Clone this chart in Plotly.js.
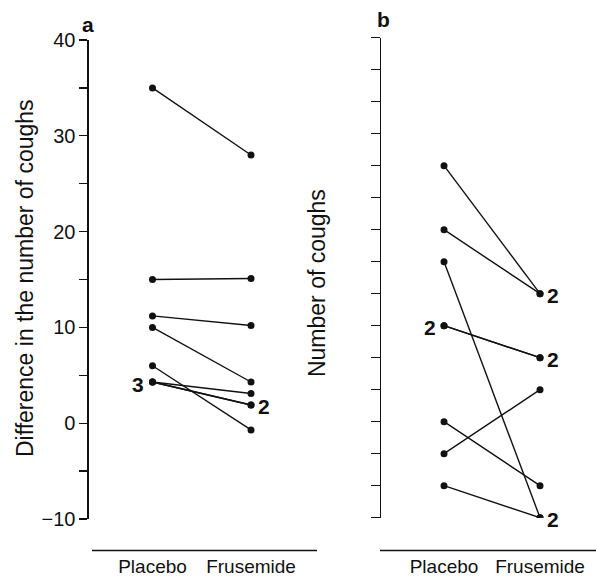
<!DOCTYPE html>
<html>
<head>
<meta charset="utf-8">
<script src="https://cdn.plot.ly/plotly-3.0.1.min.js"></script>
<style>html,body{margin:0;padding:0;background:#fff;}#chart{width:596px;height:576px;}</style>
</head>
<body>
<div id="chart"></div>
<script>
// ---- data ----
const categories = ['Placebo', 'Frusemide'];
// panel a: difference in number of coughs, one pair per patient
const placeboA   = [35, 15.0, 11.2, 10.0, 6.0, 4.3, 4.3, 4.3];
const frusemideA = [28, 15.1, 10.2, 4.3, -0.7, 3.1, 1.9, 1.9];
// panel b: number of coughs (axis ticks unlabelled)
const placeboB   = [11, 9, 8, 6, 6, 3, 2, 1];
const frusemideB = [7, 7, 0, 5, 5, 1, 4, 0];
// count labels (overlapping patients)
const countA_cat  = ['Placebo', 'Frusemide'];
const countA_y    = [4.3, 1.9];
const countA_text = ['3', '2'];
const countB_cat  = ['Placebo', 'Frusemide', 'Frusemide', 'Frusemide'];
const countB_y    = [6, 7, 5, 0];
const countB_text = ['2', '2', '2', '2'];
const yTicksA = [-10, -5, 0, 5, 10, 15, 20, 25, 30, 35, 40];
const yTickTextA = ['\u221210', '', '0', '', '10', '', '20', '', '30', '', '40'];
const yTicksB = [0,1,2,3,4,5,6,7,8,9,10,11,12,13,14,15];

const FONT = '"Liberation Sans", Arial, Helvetica, sans-serif';
const INK = '#111';

const traces = [];
placeboA.forEach((p, i) => {
  traces.push({x: categories, y: [p, frusemideA[i]], xaxis: 'x', yaxis: 'y',
    mode: 'lines+markers', line: {color: INK, width: 1.4},
    marker: {color: INK, size: 7}, hoverinfo: 'x+y', showlegend: false});
});
placeboB.forEach((p, i) => {
  traces.push({x: categories, y: [p, frusemideB[i]], xaxis: 'x2', yaxis: 'y2',
    mode: 'lines+markers', line: {color: INK, width: 1.4},
    marker: {color: INK, size: 7}, hoverinfo: 'x+y', showlegend: false});
});

const annotations = [];
countA_text.forEach((t, i) => {
  const left = countA_cat[i] === categories[0];
  annotations.push({xref: 'x', yref: 'y', x: countA_cat[i], y: countA_y[i], text: t,
    showarrow: false, xanchor: left ? 'right' : 'left', yanchor: 'middle',
    xshift: left ? -6 : 5, yshift: -2,
    font: {family: FONT, size: 21, color: INK, weight: 'bold'}});
});
countB_text.forEach((t, i) => {
  const left = countB_cat[i] === categories[0];
  annotations.push({xref: 'x2', yref: 'y2', x: countB_cat[i], y: countB_y[i], text: t,
    showarrow: false, xanchor: left ? 'right' : 'left', yanchor: 'middle',
    xshift: left ? -6 : 5, yshift: -2,
    font: {family: FONT, size: 21, color: INK, weight: 'bold'}});
});
annotations.push({xref: 'paper', yref: 'paper', x: 0.042, y: 0.5174, text: 'Difference in the number of coughs',
  xanchor: 'center', yanchor: 'middle',
  textangle: -90, showarrow: false, font: {family: FONT, size: 23, color: INK}});
annotations.push({xref: 'paper', yref: 'paper', x: 0.532, y: 0.5087, text: 'Number of coughs',
  xanchor: 'center', yanchor: 'middle',
  textangle: -90, showarrow: false, font: {family: FONT, size: 23, color: INK}});
annotations.push({xref: 'paper', yref: 'paper', x: 0.147, y: 0.9583, text: 'a',
  xanchor: 'center', yanchor: 'middle',
  showarrow: false, font: {family: FONT, size: 21, color: INK, weight: 'bold'}});
annotations.push({xref: 'paper', yref: 'paper', x: 0.644, y: 0.967, text: 'b',
  xanchor: 'center', yanchor: 'middle',
  showarrow: false, font: {family: FONT, size: 21, color: INK, weight: 'bold'}});

const xCommon = {type: 'category', showline: false, showgrid: false, zeroline: false,
  ticks: '', tickfont: {family: FONT, size: 19, color: INK}, fixedrange: true};
const layout = {
  width: 596, height: 576,
  margin: {l: 0, r: 0, t: 0, b: 0},
  paper_bgcolor: '#fff', plot_bgcolor: '#fff',
  showlegend: false,
  xaxis: Object.assign({}, xCommon, {domain: [0.1493, 0.5319], range: [-0.6447, 1.670],
    anchor: 'y', ticklabelstandoff: 34}),
  yaxis: {domain: [0.09896, 0.93056], range: [-10, 40], anchor: 'x',
    showline: true, linecolor: INK, linewidth: 1.5, showgrid: false, zeroline: false,
    ticks: 'outside', ticklen: 8, tickwidth: 1.3, tickcolor: INK,
    tickmode: 'array', tickvals: yTicksA, ticktext: yTickTextA,
    tickfont: {family: FONT, size: 20, color: INK}},
  xaxis2: Object.assign({}, xCommon, {domain: [0.6393, 1.0], range: [-0.65625, 1.5833],
    anchor: 'y2', ticklabelstandoff: 35}),
  yaxis2: {domain: [0.10122, 0.93455], range: [0, 15], anchor: 'x2',
    showline: true, linecolor: INK, linewidth: 1.5, showgrid: false, zeroline: false,
    ticks: 'outside', ticklen: 9, tickwidth: 1.3, tickcolor: INK,
    tickmode: 'array', tickvals: yTicksB, showticklabels: false},
  shapes: [
    {type: 'line', xref: 'paper', yref: 'paper', x0: 0.1544, x1: 0.5319, y0: 0.0443, y1: 0.0443,
      line: {color: INK, width: 1.5}},
    {type: 'line', xref: 'paper', yref: 'paper', x0: 0.6376, x1: 1.0, y0: 0.0443, y1: 0.0443,
      line: {color: INK, width: 1.5}}
  ],
  annotations: annotations
};
Plotly.newPlot('chart', traces, layout, {displayModeBar: false, staticPlot: true});
</script>
</body>
</html>
